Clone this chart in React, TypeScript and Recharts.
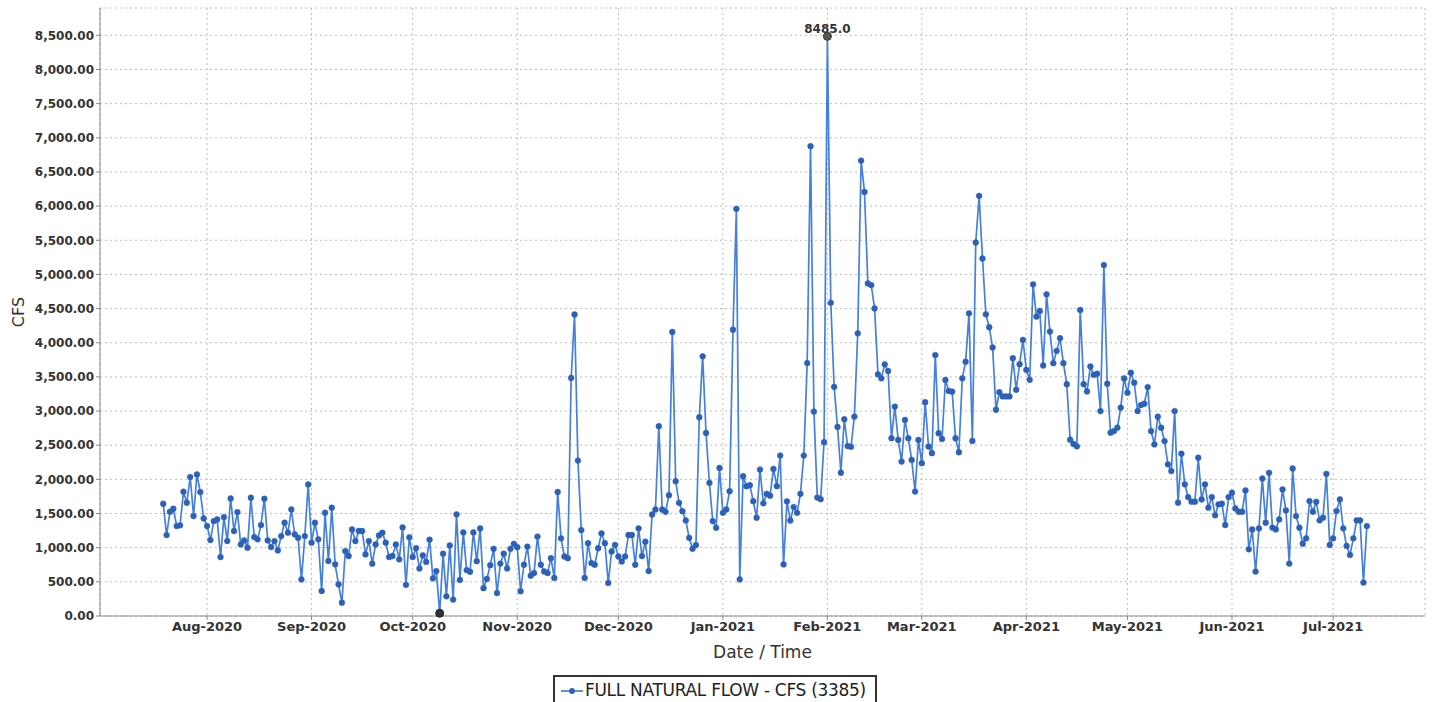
import { LineChart, Line, XAxis, YAxis, CartesianGrid, ReferenceDot } from "recharts"

// daily full natural flow, CFS, one array per calendar month
const jul2020 = [1643, 1185, 1527, 1570, 1317, 1327, 1819, 1658, 2034, 1463, 2073, 1814, 1429]
const aug2020 = [1317, 1112, 1390, 1414, 863, 1448, 1097, 1721, 1244, 1521, 1048, 1107, 1000, 1731, 1156, 1122, 1331, 1716, 1107, 1009, 1097, 960, 1170, 1365, 1219, 1560, 1195, 1146, 536, 1170, 1926]
const sep2020 = [1073, 1365, 1122, 366, 1512, 805, 1585, 756, 463, 195, 951, 878, 1268, 1097, 1244, 1244, 902, 1097, 766, 1048, 1180, 1219, 1073, 863, 878, 1048, 829, 1296, 456, 1152]
const oct2020 = [864, 994, 696, 888, 792, 1118, 552, 658, 40, 912, 288, 1032, 240, 1488, 528, 1224, 672, 648, 1224, 802, 1282, 408, 542, 744, 984, 336, 768, 912, 696, 984, 1056]
const nov2020 = [1008, 363, 750, 1016, 590, 629, 1162, 750, 653, 629, 847, 557, 1815, 1137, 871, 847, 3485, 4414, 2275, 1258, 557, 1065, 774, 750, 992, 1210, 1065, 484, 944, 1040]
const dec2020 = [871, 799, 871, 1186, 1186, 750, 1283, 877, 1087, 658, 1486, 1559, 2778, 1559, 1525, 1769, 4157, 1973, 1657, 1535, 1399, 1145, 984, 1038, 2909, 3801, 2680, 1949, 1389, 1291, 2168]
const jan2021 = [1511, 1559, 1827, 4191, 5960, 536, 2047, 1900, 1915, 1681, 1438, 2144, 1650, 1789, 1761, 2153, 1901, 2349, 755, 1678, 1398, 1594, 1510, 1789, 2349, 3702, 6878, 2992, 1734, 1710, 2544]
const feb2021 = [8485, 4585, 3355, 2768, 2097, 2880, 2488, 2477, 2919, 4138, 6666, 6207, 4868, 4844, 4503, 3538, 3479, 3684, 3587, 2602, 3065, 2578, 2261, 2870, 2602, 2285, 1822, 2578]
const mar2021 = [2237, 3129, 2480, 2383, 3820, 2675, 2592, 3455, 3294, 3284, 2602, 2397, 3479, 3723, 4430, 2563, 5467, 6150, 5234, 4416, 4227, 3930, 3019, 3277, 3214, 3214, 3214, 3774, 3312, 3686, 4042]
const apr2021 = [3603, 3457, 4855, 4383, 4465, 3667, 4709, 4163, 3701, 3881, 4066, 3701, 3394, 2581, 2518, 2484, 4480, 3394, 3287, 3652, 3530, 3546, 3000, 5137, 3400, 2683, 2707, 2756, 3049, 3478]
const may2021 = [3268, 3561, 3415, 3000, 3088, 3107, 3351, 2707, 2512, 2917, 2756, 2561, 2220, 2122, 3000, 1659, 2376, 1927, 1741, 1673, 1673, 2317, 1707, 1927, 1585, 1741, 1473, 1634, 1643, 1332, 1741]
const jun2021 = [1804, 1575, 1526, 1526, 1838, 976, 1268, 650, 1283, 2013, 1366, 2096, 1293, 1268, 1414, 1853, 1546, 767, 2159, 1463, 1293, 1059, 1137, 1682, 1526, 1672, 1400, 1439, 2081, 1040]
const jul2021 = [1137, 1536, 1707, 1283, 1025, 894, 1137, 1400, 1400, 490, 1317]

// [year, month (0-based), first day, values]
const months: [number, number, number, number[]][] = [
  [2020, 6, 19, jul2020],
  [2020, 7, 1, aug2020],
  [2020, 8, 1, sep2020],
  [2020, 9, 1, oct2020],
  [2020, 10, 1, nov2020],
  [2020, 11, 1, dec2020],
  [2021, 0, 1, jan2021],
  [2021, 1, 1, feb2021],
  [2021, 2, 1, mar2021],
  [2021, 3, 1, apr2021],
  [2021, 4, 1, may2021],
  [2021, 5, 1, jun2021],
  [2021, 6, 1, jul2021],
]

const yTicks = [0, 500, 1000, 1500, 2000, 2500, 3000, 3500, 4000, 4500, 5000, 5500, 6000, 6500, 7000, 7500, 8000, 8500]
const monthNames = ["Jan", "Feb", "Mar", "Apr", "May", "Jun", "Jul", "Aug", "Sep", "Oct", "Nov", "Dec"]
const xTicks = [
  Date.UTC(2020, 7, 1), Date.UTC(2020, 8, 1), Date.UTC(2020, 9, 1), Date.UTC(2020, 10, 1),
  Date.UTC(2020, 11, 1), Date.UTC(2021, 0, 1), Date.UTC(2021, 1, 1), Date.UTC(2021, 2, 1),
  Date.UTC(2021, 3, 1), Date.UTC(2021, 4, 1), Date.UTC(2021, 5, 1), Date.UTC(2021, 6, 1),
]

const data = months.flatMap(([y, m, d0, vals]) =>
  vals.map((v, i) => ({ t: Date.UTC(y, m, d0 + i), cfs: v })),
)

const maxPt = data.reduce((a, b) => (b.cfs > a.cfs ? b : a))
const minPt = data.reduce((a, b) => (b.cfs < a.cfs ? b : a))

const fmtMonth = (v: number) => {
  const d = new Date(v)
  return `${monthNames[d.getUTCMonth()]}-${d.getUTCFullYear()}`
}
const fmtCfs = (v: number) =>
  v.toLocaleString("en-US", { minimumFractionDigits: 2, maximumFractionDigits: 2 })

const FONT = "'DejaVu Sans', Verdana, sans-serif"
const yTickStyle = { fontSize: 12, fontWeight: 700, fill: "#333", fontFamily: FONT }
const xTickStyle = { ...yTickStyle, fontSize: 13 }
const LINE = "#4580da"
const DOT = "#2d60b8"

export default function App() {
  return (
    <div style={{ position: "absolute", left: 0, top: 0, width: 1437, height: 702, overflow: "hidden", background: "#fff" }}>
      <LineChart width={1437} height={702} data={data} margin={{ top: 8, right: 12, bottom: 36, left: 0 }}>
        <CartesianGrid stroke="#bdbdbd" strokeDasharray="2 3" />
        <XAxis
          dataKey="t"
          type="number"
          scale="time"
          domain={[Date.UTC(2020, 5, 30, 6), Date.UTC(2021, 6, 28, 6)]}
          ticks={xTicks}
          tickFormatter={fmtMonth}
          tick={xTickStyle}
          stroke="#888"
          tickSize={4}
          height={50}
          label={{ value: "Date / Time", position: "insideBottom", offset: 8, style: { fontSize: 17, fill: "#333", fontFamily: FONT } }}
        />
        <YAxis
          type="number"
          domain={[0, 8900]}
          ticks={yTicks}
          tickFormatter={fmtCfs}
          tick={yTickStyle}
          stroke="#888"
          tickSize={4}
          width={100}
          label={{ value: "CFS", angle: -90, position: "insideLeft", offset: 18, style: { fontSize: 16, fill: "#333", fontFamily: FONT, textAnchor: "middle" } }}
        />
        <Line
          dataKey="cfs"
          stroke={LINE}
          strokeWidth={1.7}
          dot={{ r: 2.9, fill: DOT, stroke: DOT, strokeWidth: 0.5 }}
          isAnimationActive={false}
        />
        <ReferenceDot
          x={maxPt.t}
          y={maxPt.cfs}
          r={4}
          fill="#555"
          stroke="#333"
          label={{ value: maxPt.cfs.toFixed(1), position: "top", offset: -1, style: { fontSize: 12, fontWeight: 700, fill: "#333", fontFamily: FONT } }}
        />
        <ReferenceDot x={minPt.t} y={minPt.cfs} r={4} fill="#333" stroke="#222" />
      </LineChart>
      <div
        style={{
          position: "absolute", left: 553, top: 675, width: 324, height: 34,
          border: "2px solid #333", background: "#fff", boxSizing: "border-box",
          display: "flex", alignItems: "flex-start", paddingTop: 2,
          fontFamily: FONT, fontSize: 17, color: "#222",
        }}
      >
        <svg width={30} height={22} style={{ flex: "none" }}>
          <line x1={6} y1={12} x2={28} y2={12} stroke={LINE} strokeWidth={1.7} />
          <circle cx={17} cy={12} r={2.9} fill={DOT} />
        </svg>
        <span style={{ lineHeight: "22px", whiteSpace: "nowrap", letterSpacing: -0.3 }}>FULL NATURAL FLOW - CFS (3385)</span>
      </div>
    </div>
  )
}
